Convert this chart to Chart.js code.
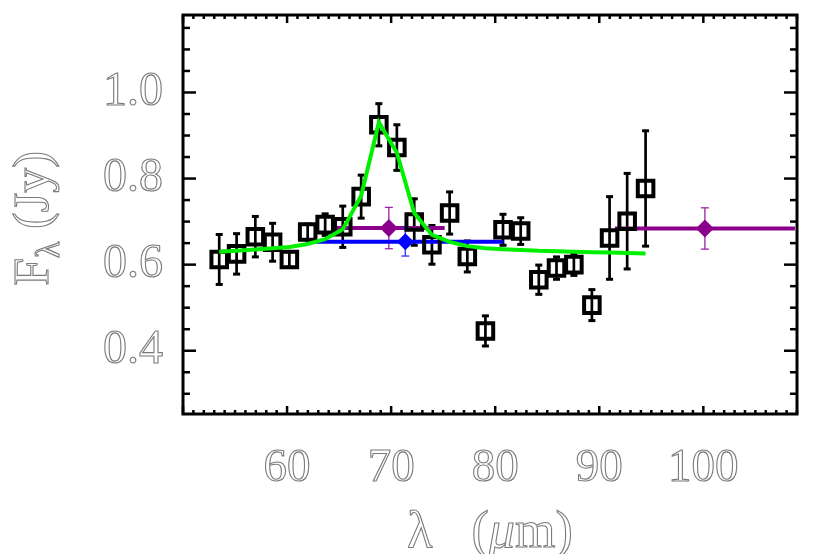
<!DOCTYPE html>
<html>
<head>
<meta charset="utf-8">
<script src="https://cdn.jsdelivr.net/npm/chart.js@4.4.0/dist/chart.umd.min.js"></script>
<style>
  body { margin: 0; background: #fff; }
  #wrap { width: 830px; height: 554px; }
</style>
</head>
<body>
<div id="wrap"><canvas id="graph" width="830" height="554"></canvas></div>
<script>
// measured spectrum (wavelength in micron, flux in Jy)
const lam = [53.48, 55.15, 56.95, 58.61, 60.22, 61.98, 63.66, 65.35, 67.12, 68.82, 70.55, 72.22, 73.92,
    75.62, 77.32, 79.06, 80.75, 82.45, 84.19, 85.89, 87.56, 89.29, 90.99, 92.68, 94.45]
const flux = [0.612, 0.625, 0.665, 0.652, 0.612, 0.676, 0.693, 0.688, 0.758, 0.925, 0.872, 0.699, 0.646,
    0.720, 0.619, 0.446, 0.681, 0.678, 0.565, 0.592, 0.600, 0.506, 0.662, 0.701, 0.777]
const fluxErr = [0.058, 0.047, 0.047, 0.044, 0.018, 0.018, 0.025, 0.048, 0.050, 0.049, 0.053, 0.054, 0.045,
    0.049, 0.036, 0.035, 0.036, 0.031, 0.034, 0.026, 0.025, 0.036, 0.096, 0.111, 0.134]
// line fit evaluated at the same wavelengths
const fit = [0.630, 0.632, 0.635, 0.638, 0.641, 0.648, 0.659, 0.682, 0.760, 0.931, 0.860, 0.720, 0.669,
    0.653, 0.643, 0.638, 0.636, 0.634, 0.632, 0.631, 0.630, 0.629, 0.628, 0.627, 0.626]

// broad-band photometry
const purpleLam = [69.78, 100.15]
const purpleFlux = [0.685, 0.684]
const purpleErr = [0.048, 0.048]
const purpleLo = [64.55, 91.5]
const purpleHi = [75.14, 108.8]

const blueLam = [71.36]
const blueFlux = [0.653]
const blueErr = [0.033]
const blueLo = [61.83]
const blueHi = [80.75]

const xTicks = [60, 70, 80, 90, 100]
const yTicks = [0.4, 0.6, 0.8, 1.0]

const labelFont = "Liberation Serif"
const canv = document.getElementById("graph")
const ctx = canv.getContext("2d")

function seg(c, x1, y1, x2, y2) {
    c.beginPath()
    c.moveTo(x1, y1)
    c.lineTo(x2, y2)
    c.stroke()
}

const errorBars = {
    id: 'errorBars',
    beforeDatasetsDraw(chart) {
        const c = chart.ctx
        const {x, y} = chart.scales
        c.save()
        c.lineCap = 'butt'
        // black y error bars with caps
        c.strokeStyle = '#000'
        lam.forEach((l, i) => {
            const px = x.getPixelForValue(l)
            const p1 = y.getPixelForValue(flux[i] - fluxErr[i])
            const p2 = y.getPixelForValue(flux[i] + fluxErr[i])
            c.lineWidth = 2.7
            seg(c, px, p1, px, p2)
            c.lineWidth = 3
            seg(c, px - 3.5, p1, px + 3.5, p1)
            seg(c, px - 3.5, p2, px + 3.5, p2)
        })
        const band = (ls, fs, es, lo, hi, col, thin) => {
            ls.forEach((l, i) => {
                const py = y.getPixelForValue(fs[i])
                c.strokeStyle = col
                c.lineWidth = 4
                seg(c, x.getPixelForValue(lo[i]), py, x.getPixelForValue(hi[i]), py)
                const px = x.getPixelForValue(l)
                const p1 = y.getPixelForValue(fs[i] - es[i])
                const p2 = y.getPixelForValue(fs[i] + es[i])
                c.strokeStyle = thin
                c.lineWidth = 1.3
                seg(c, px, p1, px, p2)
                seg(c, px - 4, p1, px + 4, p1)
                seg(c, px - 4, p2, px + 4, p2)
            })
        }
        band(purpleLam, purpleFlux, purpleErr, purpleLo, purpleHi, '#8b008b', '#a020a8')
        band(blueLam, blueFlux, blueErr, blueLo, blueHi, '#0000ff', '#3030ff')
        c.restore()
    }
}

const frame = {
    id: 'frame',
    afterDatasetsDraw(chart) {
        const c = chart.ctx
        const a = chart.chartArea
        const {x, y} = chart.scales
        c.save()
        c.strokeStyle = '#000'
        c.lineWidth = 2.5
        for(let v = Math.ceil(x.min); v <= x.max; v++) {
            const px = x.getPixelForValue(v)
            const len = v % 10 == 0 ? 8 : 4
            seg(c, px, a.bottom, px, a.bottom - len)
            seg(c, px, a.top, px, a.top + len)
        }
        for(let k = Math.ceil(y.min / 0.05); k * 0.05 <= y.max; k++) {
            const py = y.getPixelForValue(k * 0.05)
            const len = k % 4 == 0 ? 13 : 7
            seg(c, a.left, py, a.left + len, py)
            seg(c, a.right, py, a.right - len, py)
        }
        c.lineWidth = 3
        c.strokeRect(a.left, a.top, a.right - a.left, a.bottom - a.top)
        c.restore()
    },
    afterDraw(chart) {
        const c = chart.ctx
        const a = chart.chartArea
        c.save()
        c.strokeStyle = '#7a7a7a'
        c.lineWidth = 1.1
        c.textBaseline = 'alphabetic'
        // x title: lambda (mu m)
        const parts = [
            ["λ   (", "52px '" + labelFont + "'"],
            ["μ", "italic 52px '" + labelFont + "'"],
            ["m)", "52px '" + labelFont + "'"]
        ]
        let total = 0
        parts.forEach(p => { c.font = p[1]; total += c.measureText(p[0]).width })
        let xx = (a.left + a.right) / 2 - total / 2
        parts.forEach(p => {
            c.font = p[1]
            c.strokeText(p[0], xx, 547)
            xx += c.measureText(p[0]).width
        })
        // y title: F_lambda (Jy), rotated
        c.translate(48, (a.top + a.bottom) / 2 + 4)
        c.rotate(-Math.PI / 2)
        const big = "50px '" + labelFont + "'"
        const small = "34px '" + labelFont + "'"
        c.font = big
        const wF = c.measureText("F").width
        const wR = c.measureText(" (Jy)").width
        c.font = small
        const wL = c.measureText("λ").width
        let tx = -(wF + wL + wR) / 2
        c.font = big
        c.strokeText("F", tx, 0)
        tx += wF
        c.font = small
        c.strokeText("λ", tx, 11)
        tx += wL
        c.font = big
        c.strokeText(" (Jy)", tx, 0)
        c.restore()
    }
}

new Chart(ctx, {
    type: 'scatter',
    data: {
        datasets: [{
            label: 'fit',
            data: lam.map((l, i) => ({x: l, y: fit[i]})),
            showLine: true,
            borderColor: '#00f000',
            borderWidth: 4,
            pointRadius: 0,
            order: 0
        }, {
            label: 'purple',
            data: purpleLam.map((l, i) => ({x: l, y: purpleFlux[i]})),
            pointStyle: 'rectRot',
            pointRadius: 9,
            borderWidth: 0,
            backgroundColor: '#8b008b',
            borderColor: '#8b008b',
            order: 1
        }, {
            label: 'blue',
            data: blueLam.map((l, i) => ({x: l, y: blueFlux[i]})),
            pointStyle: 'rectRot',
            pointRadius: 8.5,
            borderWidth: 0,
            backgroundColor: '#0000ff',
            borderColor: '#0000ff',
            order: 1
        }, {
            label: 'spectrum',
            data: lam.map((l, i) => ({x: l, y: flux[i]})),
            pointStyle: 'rect',
            pointRadius: 11,
            borderWidth: 4,
            borderColor: '#000',
            backgroundColor: 'rgba(0,0,0,0)',
            order: 3
        }]
    },
    options: {
        responsive: false,
        animation: false,
        events: [],
        layout: { padding: { top: 11, right: 33, left: 0, bottom: 0 } },
        plugins: { legend: { display: false }, tooltip: { enabled: false } },
        scales: {
            x: {
                type: 'linear',
                min: 50,
                max: 109,
                grid: { display: false, drawTicks: false },
                border: { display: false },
                afterBuildTicks: s => { s.ticks = xTicks.map(v => ({value: v})) },
                afterFit: s => { s.height = 140; s.paddingLeft = 0; s.paddingRight = 0 },
                ticks: {
                    autoSkip: false,
                    maxRotation: 0,
                    padding: 26,
                    color: 'rgba(0,0,0,0)',
                    textStrokeColor: '#7a7a7a',
                    textStrokeWidth: 1.1,
                    font: { family: labelFont, size: 47 }
                }
            },
            y: {
                min: 0.253,
                max: 1.18,
                grid: { display: false, drawTicks: false },
                border: { display: false },
                afterBuildTicks: s => { s.ticks = yTicks.map(v => ({value: v})) },
                afterFit: s => { s.width = 183; s.paddingTop = 0; s.paddingBottom = 0 },
                ticks: {
                    padding: 20,
                    callback: v => v.toFixed(1),
                    color: 'rgba(0,0,0,0)',
                    textStrokeColor: '#7a7a7a',
                    textStrokeWidth: 1.1,
                    font: { family: labelFont, size: 48 }
                }
            }
        }
    },
    plugins: [errorBars, frame]
})
</script>
</body>
</html>
